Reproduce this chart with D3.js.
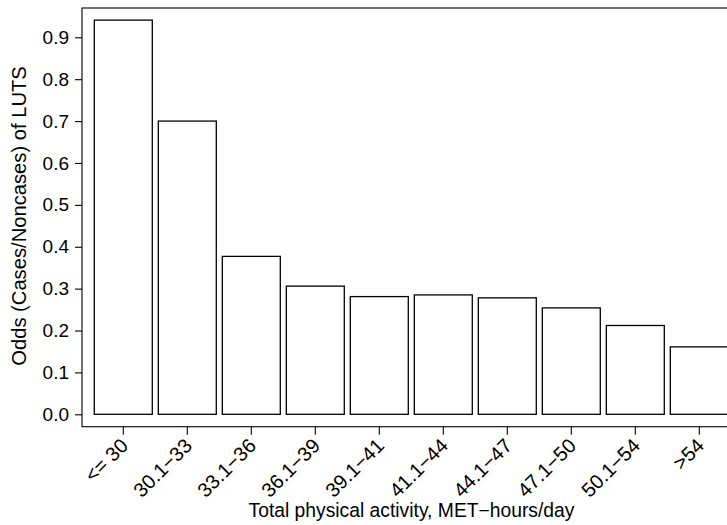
<!DOCTYPE html>
<html>
<head>
<meta charset="utf-8">
<script src="https://cdn.jsdelivr.net/npm/d3@7"></script>
<style>
  html, body { margin: 0; padding: 0; background: #fff; }
  svg { display: block; }
  text { font-family: "Liberation Sans", Arial, Helvetica, sans-serif; fill: #000; }
</style>
</head>
<body>
<svg id="chart" width="727" height="525"></svg>
<script>
// Odds of LUTS by total physical activity category
const categories = ["<= 30", "30.1\u221233", "33.1\u221236", "36.1\u221239", "39.1\u221241",
                    "41.1\u221244", "44.1\u221247", "47.1\u221250", "50.1\u221254", ">54"];
const odds = [0.941, 0.700, 0.377, 0.306, 0.281, 0.285, 0.278, 0.254, 0.212, 0.161];
const yTicks = [0.0, 0.1, 0.2, 0.3, 0.4, 0.5, 0.6, 0.7, 0.8, 0.9];

const xTitle = "Total physical activity, MET\u2212hours/day";
const yTitle = "Odds (Cases/Noncases) of LUTS";

const svg = d3.select("#chart");
const tickFont = 19;

// plot frame
const frame = { left: 82, top: 8, right: 760, bottom: 426.7 };

const x = d3.scaleBand()
  .domain(categories)
  .range([91.3, 731.3])
  .paddingInner(0.094)
  .paddingOuter(0.047);

const y = d3.scaleLinear()
  .domain([0, 0.9])
  .range([414.3, 37.3]);

// frame (right side falls outside the canvas)
svg.append("rect")
  .attr("x", frame.left)
  .attr("y", frame.top)
  .attr("width", frame.right - frame.left)
  .attr("height", frame.bottom - frame.top)
  .attr("fill", "none")
  .attr("stroke", "#000")
  .attr("stroke-width", 1.1);

// bars
svg.append("g").selectAll("rect")
  .data(categories.map((c, i) => ({ c, v: odds[i] })))
  .join("rect")
  .attr("x", d => x(d.c))
  .attr("y", d => y(d.v))
  .attr("width", x.bandwidth())
  .attr("height", d => y(0) - y(d.v))
  .attr("fill", "#fff")
  .attr("stroke", "#000")
  .attr("stroke-width", 1.3);

// y axis
const yAxis = svg.append("g")
  .attr("transform", `translate(${frame.left},0)`)
  .call(d3.axisLeft(y).tickValues(yTicks).tickFormat(d3.format(".1f")).tickSize(7).tickPadding(6));
yAxis.select(".domain").remove();
yAxis.selectAll("line").attr("stroke", "#000").attr("stroke-width", 1.1);
yAxis.selectAll("text")
  .attr("font-size", tickFont)
  .attr("font-family", "Liberation Sans, Arial, sans-serif")
  .attr("fill", "#000");

// x axis
const xAxis = svg.append("g")
  .attr("transform", `translate(0,${frame.bottom})`)
  .call(d3.axisBottom(x).tickSize(8).tickFormat(""));
xAxis.select(".domain").remove();
xAxis.selectAll("line").attr("stroke", "#000").attr("stroke-width", 1.1);

// rotated category labels
svg.append("g").selectAll("text")
  .data(categories)
  .join("text")
  .attr("transform", d => `translate(${x(d) + x.bandwidth() / 2 + 1},${442}) rotate(-45)`)
  .attr("text-anchor", "end")
  .attr("dy", "0.35em")
  .attr("font-size", 20)
  .text(d => d);

// axis titles
svg.append("text")
  .attr("x", 411.5)
  .attr("y", 516.5)
  .attr("text-anchor", "middle")
  .attr("font-size", 19.3)
  .text(xTitle);

svg.append("text")
  .attr("transform", "translate(25.5,216) rotate(-90)")
  .attr("text-anchor", "middle")
  .attr("font-size", 20.2)
  .text(yTitle);
</script>
</body>
</html>
